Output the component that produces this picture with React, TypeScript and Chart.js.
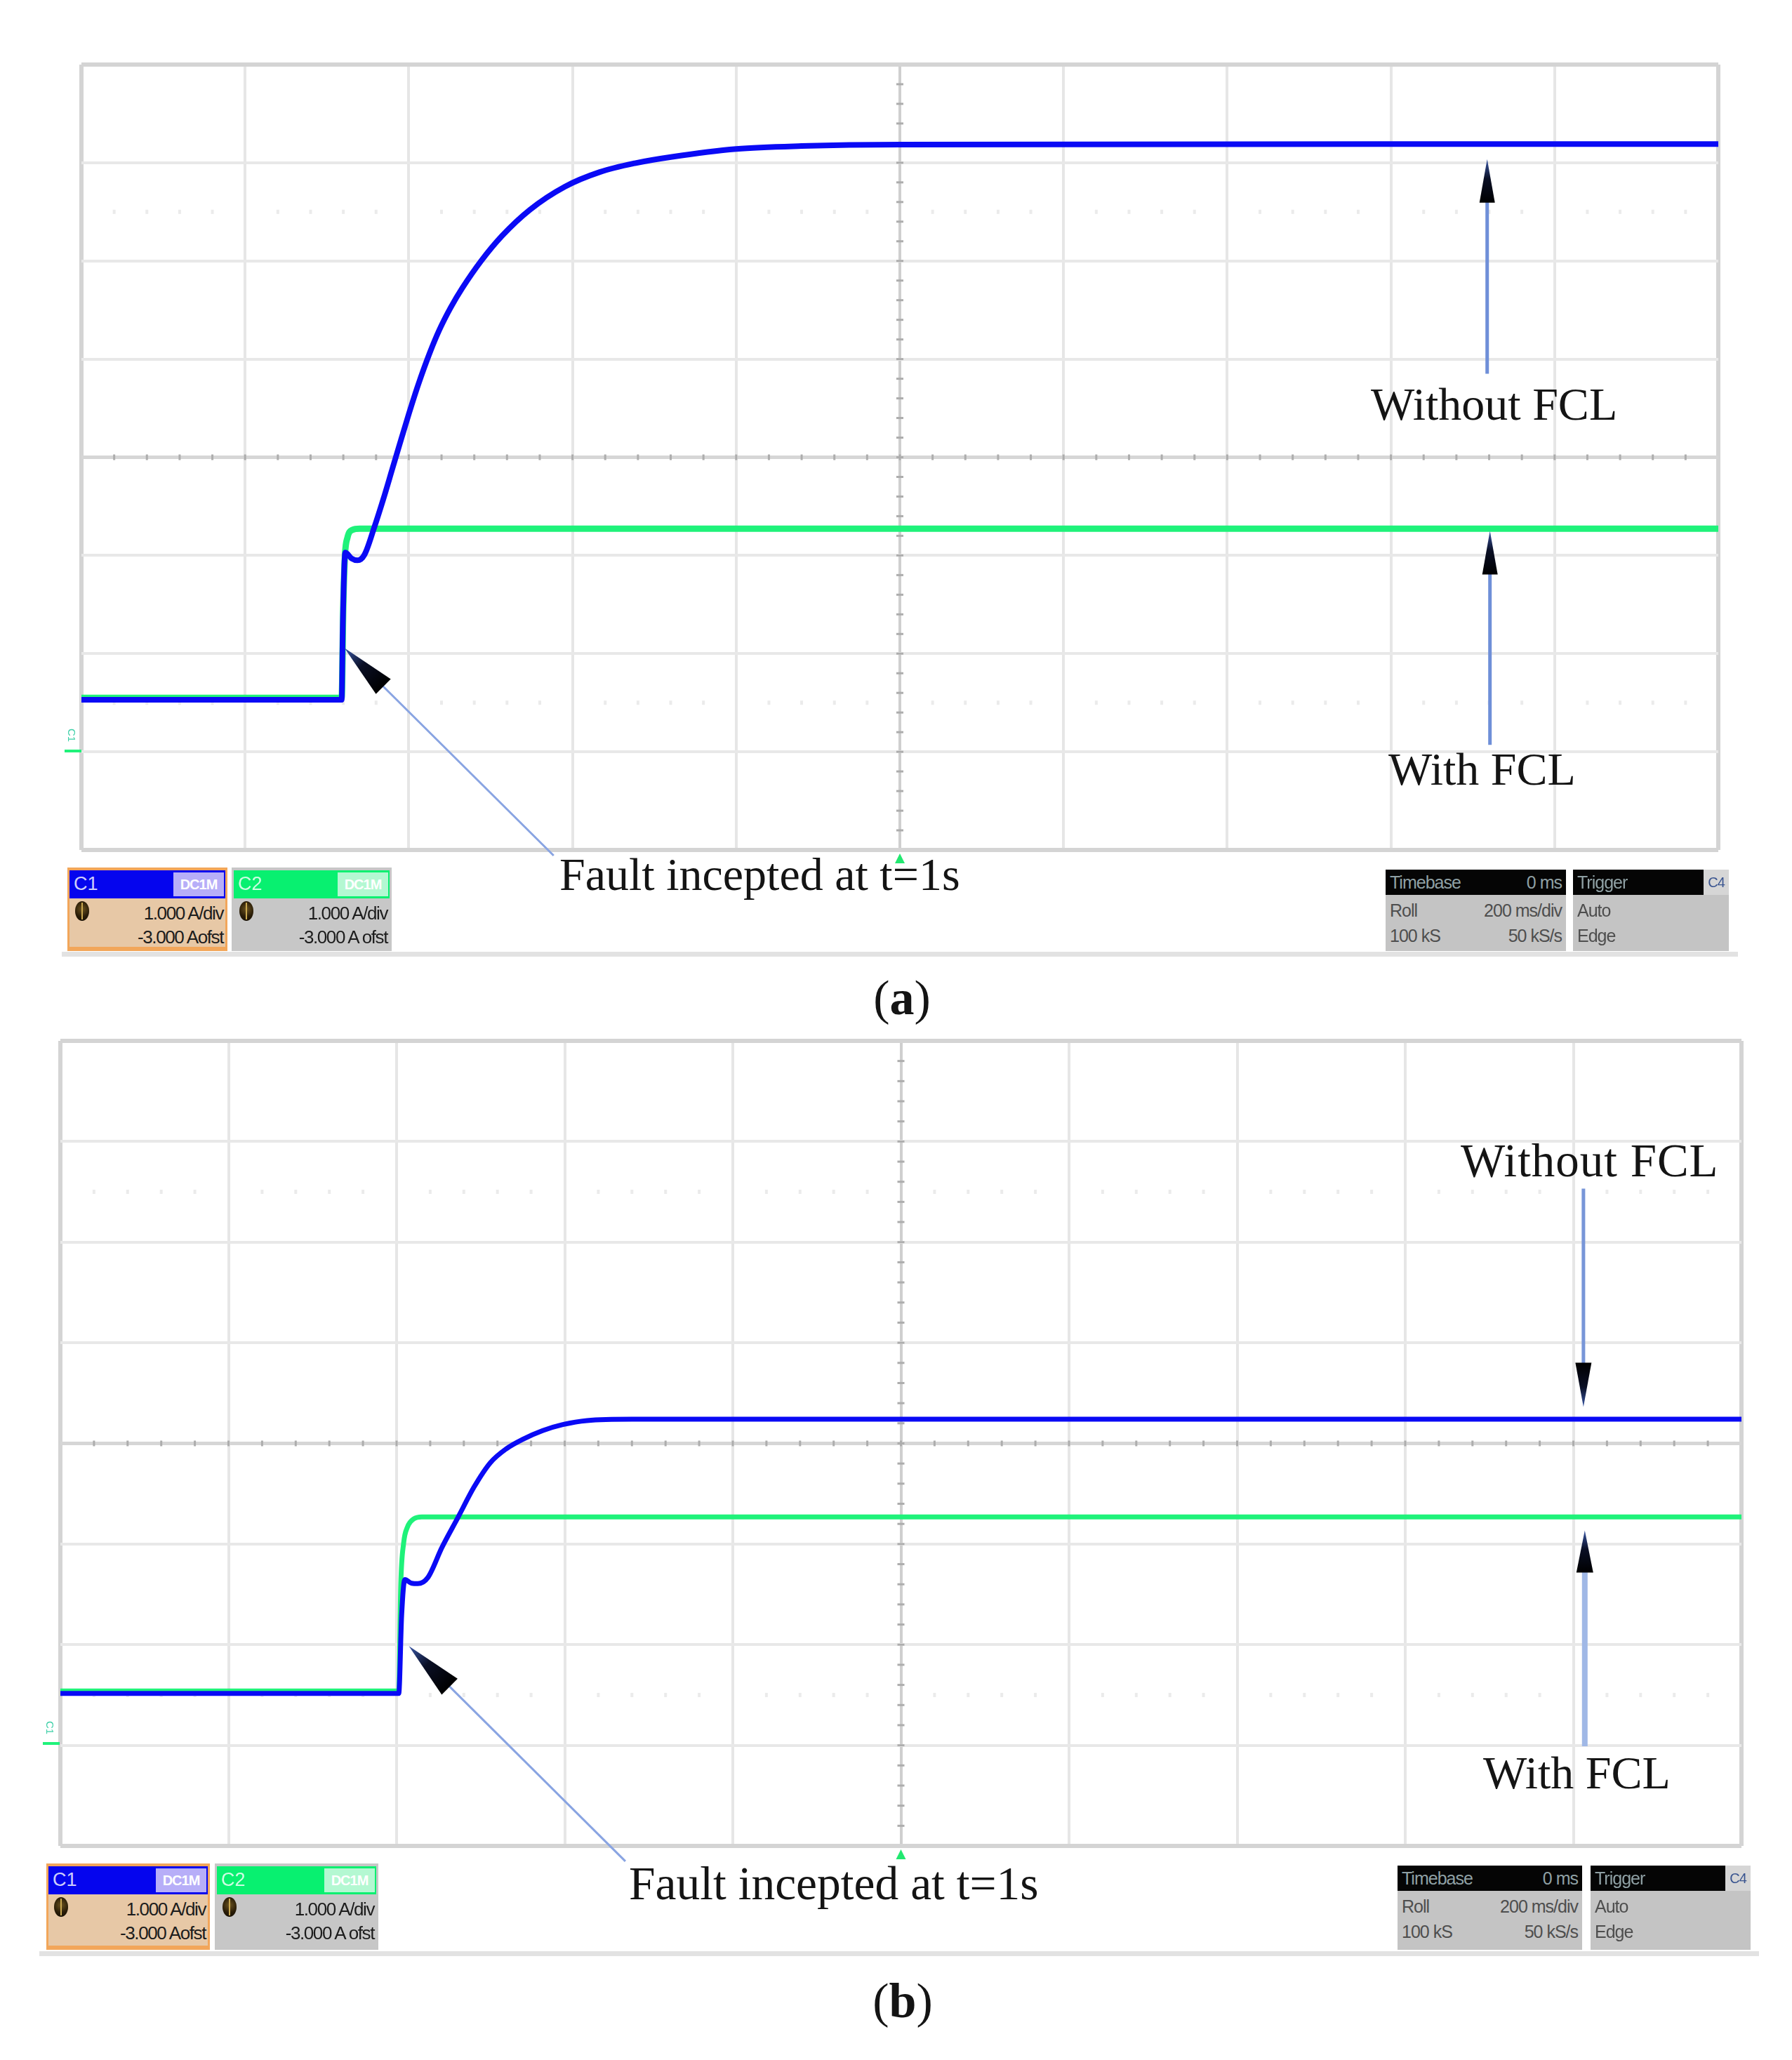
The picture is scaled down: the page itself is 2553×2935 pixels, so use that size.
import React, { useEffect, useRef } from "react";
import { Chart, registerables } from "chart.js";
Chart.register(...registerables);

// ---------- scope settings (200 ms/div, 1 A/div, -3 A offset) ----------
const TIME_MIN_MS = 0;
const TIME_MAX_MS = 2000;
const TIME_DIV_MS = 200;
const AMP_MIN = -1;
const AMP_MAX = 7;
const AMP_DIV = 1;
const CENTER_T = 1000;
const CENTER_A = 3;

// ---------- panel (a) ----------
const aWithoutT = [0, 318, 319.4, 322.4, 330, 337.4, 346, 357.7, 368.7, 380.1, 388.6, 400, 411.4, 425.6, 437, 451.2, 465.5, 488.3, 513.9, 548, 590.7, 633.4, 676.1, 721.6, 800, 880, 1000, 2000];
const aWithoutI = [0.53, 0.53, 1.3, 2.03, 1.97, 1.95, 2.01, 2.283, 2.569, 2.888, 3.126, 3.44, 3.736, 4.063, 4.291, 4.525, 4.725, 4.999, 5.255, 5.521, 5.756, 5.905, 5.995, 6.06, 6.14, 6.17, 6.185, 6.19];
const aWithT = [0, 318, 320, 322, 325, 331, 340, 2000];
const aWithI = [0.55, 0.55, 1.5, 2.0, 2.18, 2.26, 2.273, 2.273];

// ---------- panel (b) ----------
const bWithoutT = [0, 402.6, 406, 409.8, 418, 425.2, 437.2, 454, 473.2, 492.2, 511.4, 530.6, 549.8, 573.8, 597.8, 626.6, 680, 2000];
const bWithoutI = [0.515, 0.515, 1.29, 1.647, 1.61, 1.606, 1.667, 1.967, 2.267, 2.567, 2.807, 2.947, 3.039, 3.127, 3.187, 3.227, 3.24, 3.24];
const bWithT = [0, 402.6, 405, 408.4, 413, 420.4, 430, 2000];
const bWithI = [0.54, 0.54, 1.6, 2.01, 2.17, 2.25, 2.27, 2.27];

// ---------- annotation arrows: [tailT, tailA, tipT, tipA] ----------
const aFaultArrow = [577, -1.057, 321.4, 1.057];
const aWithoutArrow = [1717.6, 3.85, 1717.6, 6.036];
const aWithArrow = [1721, 0.071, 1721, 2.25];
const bFaultArrow = [672.2, -1.153, 414.6, 0.986];
const bWithoutArrow = [1812, 5.532, 1812, 3.362];
const bWithArrow = [1813.6, -0.01, 1813.6, 2.136];

const BLUE = "#0a0af5";
const GREEN = "#1ff27a";

function pts(t: number[], v: number[]) {
  return t.map((x, i) => ({ x, y: v[i] }));
}

function drawArrow(ctx: CanvasRenderingContext2D, tx: number, ty: number, hx: number, hy: number, headLen: number, headW: number, lw: number, lineColor: string) {
  const dx = hx - tx, dy = hy - ty;
  const L = Math.hypot(dx, dy);
  const ux = dx / L, uy = dy / L;
  const bx = hx - ux * headLen, by = hy - uy * headLen;
  ctx.strokeStyle = lineColor;
  ctx.lineWidth = lw;
  ctx.lineCap = "butt";
  ctx.beginPath();
  ctx.moveTo(tx, ty);
  ctx.lineTo(bx + ux * 2, by + uy * 2);
  ctx.stroke();
  const g = ctx.createLinearGradient(hx, hy, bx, by);
  g.addColorStop(0, "#3a58a8");
  g.addColorStop(0.45, "#0a0f25");
  g.addColorStop(1, "#000000");
  ctx.fillStyle = g;
  ctx.beginPath();
  ctx.moveTo(hx, hy);
  ctx.lineTo(bx - uy * headW / 2, by + ux * headW / 2);
  ctx.lineTo(bx + uy * headW / 2, by - ux * headW / 2);
  ctx.closePath();
  ctx.fill();
}

const scopePlugin = {
  id: "scope",
  beforeDatasetsDraw(chart: any) {
    const { ctx, scales } = chart;
    const x = scales.x, y = scales.y;
    ctx.save();
    // faint dotted rows at +/- 2.5 div
    ctx.fillStyle = "#ebebeb";
    for (const a of [CENTER_A - 2.5, CENTER_A + 2.5]) {
      const py = y.getPixelForValue(a);
      for (let i = 1; i < 50; i++) {
        if (i % 5 === 0) continue;
        const px = x.getPixelForValue(i * 40);
        ctx.fillRect(px - 2, py - 3, 4, 6);
      }
    }
    // minor ticks on centre lines
    ctx.fillStyle = "#adadad";
    const cy = y.getPixelForValue(CENTER_A);
    const cx = x.getPixelForValue(CENTER_T);
    for (let i = 1; i < 50; i++) {
      const px = x.getPixelForValue(i * 40);
      ctx.fillRect(px - 1.5, cy - 4, 3, 8);
    }
    for (let i = 1; i < 40; i++) {
      const py = y.getPixelForValue(AMP_MIN + i * 0.2);
      ctx.fillRect(cx - 5, py - 1.5, 10, 3);
    }
    ctx.restore();
  },
  afterDraw(chart: any, _args: any, o: any) {
    const { ctx, scales, chartArea } = chart;
    const x = scales.x, y = scales.y;
    ctx.save();
    for (const ar of o.arrows || []) {
      const [tt, ta, ht, ha] = ar.pos;
      drawArrow(ctx, x.getPixelForValue(tt), y.getPixelForValue(ta), x.getPixelForValue(ht), y.getPixelForValue(ha), ar.head, ar.headW, ar.lw, ar.color);
    }
    // trigger marker
    const cx = x.getPixelForValue(CENTER_T);
    ctx.fillStyle = "#22e870";
    ctx.beginPath();
    ctx.moveTo(cx, chartArea.bottom + 5);
    ctx.lineTo(cx - 7, chartArea.bottom + 19);
    ctx.lineTo(cx + 7, chartArea.bottom + 19);
    ctx.closePath();
    ctx.fill();
    ctx.restore();
  },
};

function ScopeChart(props: any) {
  const ref = useRef<HTMLCanvasElement | null>(null);
  useEffect(() => {
    const c = ref.current!;
    const chart = new Chart(c, {
      type: "line",
      data: {
        datasets: [
          {
            label: "Without FCL",
            data: pts(props.blueT, props.blueI),
            borderColor: BLUE,
            borderWidth: props.blueW,
            pointRadius: 0,
            cubicInterpolationMode: "monotone",
            borderJoinStyle: "round",
            borderCapStyle: "round",
            fill: false,
          },
          {
            label: "With FCL",
            data: pts(props.greenT, props.greenI),
            borderColor: GREEN,
            borderWidth: props.greenW,
            pointRadius: 0,
            cubicInterpolationMode: "monotone",
            borderJoinStyle: "round",
            borderCapStyle: "round",
            fill: false,
          },
        ],
      },
      options: {
        animation: false,
        responsive: false,
        events: [],
        layout: { padding: props.padding },
        plugins: {
          legend: { display: false },
          tooltip: { enabled: false },
          scope: { arrows: props.arrows },
        } as any,
        scales: {
          x: {
            type: "linear",
            min: TIME_MIN_MS,
            max: TIME_MAX_MS,
            ticks: { stepSize: TIME_DIV_MS, display: false },
            grid: {
              drawTicks: false,
              color: (ctx: any) => {
                const v = ctx.tick && ctx.tick.value;
                if (v === TIME_MIN_MS || v === TIME_MAX_MS) return "#d4d4d4";
                if (v === CENTER_T) return "#cfcfcf";
                return "#e6e6e6";
              },
              lineWidth: (ctx: any) => {
                const v = ctx.tick && ctx.tick.value;
                return v === TIME_MIN_MS || v === TIME_MAX_MS ? 6 : 4;
              },
            },
            border: { display: false },
          },
          y: {
            type: "linear",
            min: AMP_MIN,
            max: AMP_MAX,
            ticks: { stepSize: AMP_DIV, display: false },
            grid: {
              drawTicks: false,
              color: (ctx: any) => {
                const v = ctx.tick && ctx.tick.value;
                if (v === AMP_MIN || v === AMP_MAX) return "#d4d4d4";
                if (v === CENTER_A) return "#d6d6d6";
                return "#e8e8e8";
              },
              lineWidth: (ctx: any) => {
                const v = ctx.tick && ctx.tick.value;
                if (v === AMP_MIN || v === AMP_MAX) return 6;
                if (v === CENTER_A) return 5;
                return 4;
              },
            },
            border: { display: false },
          },
        },
      },
      plugins: [scopePlugin],
    } as any);
    return () => chart.destroy();
  }, []);
  return (
    <canvas
      ref={ref}
      width={props.w}
      height={props.h}
      style={{ position: "absolute", left: 0, top: props.top, width: props.w, height: props.h, display: "block" }}
    />
  );
}

const serif = '"Liberation Serif", "Times New Roman", serif';
const sans = '"Liberation Sans", Arial, sans-serif';

function Label(p: any) {
  return (
    <div
      style={{
        position: "absolute",
        left: p.x,
        top: p.y,
        fontFamily: serif,
        fontSize: p.size,
        lineHeight: 1,
        color: "#141414",
        whiteSpace: "nowrap",
        letterSpacing: p.ls || 0,
        transform: p.center ? "translateX(-50%)" : undefined,
      }}
    >
      {p.children}
    </div>
  );
}

function Knob() {
  return (
    <div
      style={{
        position: "absolute",
        left: 8,
        top: 4,
        width: 20,
        height: 28,
        borderRadius: "50%",
        background: "radial-gradient(circle at 50% 40%, #6b5320 0%, #2a1d08 55%, #120c02 100%)",
      }}
    >
      <div style={{ position: "absolute", left: 9, top: 2, width: 2, height: 24, background: "#c9a850" }} />
    </div>
  );
}

function ChannelBox(p: any) {
  const hh = p.hh;
  return (
    <div style={{ position: "absolute", left: p.x, top: p.y, width: p.w, height: p.h, background: p.frame, boxSizing: "border-box", padding: "4px 3px 6px 3px", fontFamily: sans }}>
      <div style={{ position: "relative", height: hh, background: p.head }}>
        <span style={{ position: "absolute", left: 6, top: 6, fontSize: 27, color: "#ffffff", opacity: 0.8, lineHeight: 1 }}>{p.name}</span>
        <div style={{ position: "absolute", right: 2, top: 3, width: p.tagW, height: hh - 6, background: p.tag, color: "#ffffff", fontSize: 20, lineHeight: `${hh - 6}px`, textAlign: "center", fontWeight: 700, letterSpacing: -1 }}>
          DC1M
        </div>
      </div>
      <div style={{ position: "relative", height: p.h - hh - 10, background: p.body }}>
        <Knob />
        <div style={{ position: "absolute", right: 3, top: 4, fontSize: 26, lineHeight: "34px", color: "#1c1c1c", textAlign: "right", letterSpacing: -1.4, whiteSpace: "nowrap" }}>
          <div>{p.line1}</div>
          <div>{p.line2}</div>
        </div>
      </div>
    </div>
  );
}

function InfoBox(p: any) {
  const hh = p.hh;
  return (
    <div style={{ position: "absolute", left: p.x, top: p.y, width: p.w, height: p.h, background: "#c4c4c4", fontFamily: sans, fontSize: 25, color: "#4e4e4e", letterSpacing: -1 }}>
      <div style={{ position: "relative", height: hh, background: "#050505", color: "#8fa0a4" }}>
        <span style={{ position: "absolute", left: 6, top: 6, lineHeight: 1 }}>{p.title}</span>
        {p.titleRight ? <span style={{ position: "absolute", right: 6, top: 6, lineHeight: 1 }}>{p.titleRight}</span> : null}
        {p.tag ? (
          <div style={{ position: "absolute", right: 0, top: 0, width: 36, height: hh, background: "#d6d6d6", color: "#3a5590", fontSize: 20, lineHeight: `${hh}px`, textAlign: "center" }}>{p.tag}</div>
        ) : null}
      </div>
      <div style={{ position: "relative", padding: "4px 6px 0 6px", lineHeight: "36px" }}>
        {p.rows.map((r: string[], i: number) => (
          <div key={i} style={{ display: "flex", justifyContent: "space-between" }}>
            <span>{r[0]}</span>
            <span>{r[1]}</span>
          </div>
        ))}
      </div>
    </div>
  );
}

function GroundMarker(p: any) {
  return (
    <div style={{ position: "absolute", left: p.x, top: p.y, width: 26, height: 34 }}>
      <div style={{ position: "absolute", left: 0, top: 0, fontFamily: sans, fontSize: 15, color: "#3fd0a8", transform: "rotate(90deg)", transformOrigin: "12px 10px" }}>C1</div>
      <div style={{ position: "absolute", left: 3, top: 28, width: 24, height: 4, background: GREEN }} />
    </div>
  );
}

function StatusBar(p: any) {
  return (
    <>
      <ChannelBox x={p.c1x} y={p.y} w={p.cw} h={p.ch} hh={40} frame="#f2a65a" head="#0505ee" tag="#b7aef8" tagW={72} body="#e7c8a6" name="C1" line1="1.000 A/div" line2="-3.000 Aofst" />
      <ChannelBox x={p.c2x} y={p.y} w={p.cw} h={p.ch} hh={40} frame="#c7c7c7" head="#08f070" tag="#b4f8d2" tagW={72} body="#c7c7c7" name="C2" line1="1.000 A/div" line2="-3.000 A ofst" />
      <InfoBox x={p.tbx} y={p.y + 3} w={p.tbw} h={p.ch - 3} hh={36} title="Timebase" titleRight="0 ms" rows={[["Roll", "200 ms/div"], ["100 kS", "50 kS/s"]]} />
      <InfoBox x={p.trx} y={p.y + 3} w={p.trw} h={p.ch - 3} hh={36} title="Trigger" tag="C4" rows={[["Auto", ""], ["Edge", ""]]} />
      <div style={{ position: "absolute", left: p.lineX0, top: p.lineY, width: p.lineX1 - p.lineX0, height: 7, background: "#e2e2e2" }} />
    </>
  );
}

export default function App() {
  const arrowStyleFault = { head: 78, headW: 30, lw: 3, color: "#89a4e2" };
  const arrowStyleV = { head: 62, headW: 22, lw: 5, color: "#6f8fd8" };
  return (
    <div style={{ position: "absolute", left: 0, top: 0, width: 2553, height: 2935, background: "#ffffff", overflow: "hidden" }}>
      <ScopeChart
        top={0}
        w={2553}
        h={1400}
        padding={{ left: 116, top: 92, right: 105, bottom: 189 }}
        blueT={aWithoutT}
        blueI={aWithoutI}
        greenT={aWithT}
        greenI={aWithI}
        blueW={8}
        greenW={9}
        arrows={[
          { pos: aFaultArrow, ...arrowStyleFault },
          { pos: aWithoutArrow, ...arrowStyleV },
          { pos: aWithArrow, ...arrowStyleV },
        ]}
      />
      <ScopeChart
        top={1400}
        w={2553}
        h={1420}
        padding={{ left: 86, top: 83, right: 72, bottom: 190 }}
        blueT={bWithoutT}
        blueI={bWithoutI}
        greenT={bWithT}
        greenI={bWithI}
        blueW={7}
        greenW={7}
        arrows={[
          { pos: bFaultArrow, head: 82, headW: 32, lw: 3, color: "#89a4e2" },
          { pos: bWithoutArrow, head: 63, headW: 23, lw: 5, color: "#7896d8" },
          { pos: bWithArrow, head: 60, headW: 24, lw: 8, color: "#a0b8e6" },
        ]}
      />

      {/* panel (a) annotations */}
      <Label x={1953} y={543} size={66}>Without FCL</Label>
      <Label x={1978} y={1063} size={66}>With FCL</Label>
      <Label x={797} y={1213} size={66}>Fault incepted at t=1s</Label>
      <Label x={1285} y={1387} size={70} center>
        (<b>a</b>)
      </Label>
      <GroundMarker x={89} y={1040} />
      <StatusBar y={1236} c1x={96} c2x={330} cw={228} ch={119} tbx={1974} tbw={257} trx={2241} trw={222} lineX0={88} lineX1={2476} lineY={1356} />

      {/* panel (b) annotations */}
      <Label x={2081} y={1620} size={67} ls={1}>Without FCL</Label>
      <Label x={2113} y={2493} size={66}>With FCL</Label>
      <Label x={896} y={2650} size={67.5}>Fault incepted at t=1s</Label>
      <Label x={1286} y={2816} size={70} center>
        (<b>b</b>)
      </Label>
      <GroundMarker x={58} y={2454} />
      <StatusBar y={2655} c1x={66} c2x={306} cw={233} ch={123} tbx={1991} tbw={263} trx={2266} trw={228} lineX0={56} lineX1={2506} lineY={2780} />
    </div>
  );
}
